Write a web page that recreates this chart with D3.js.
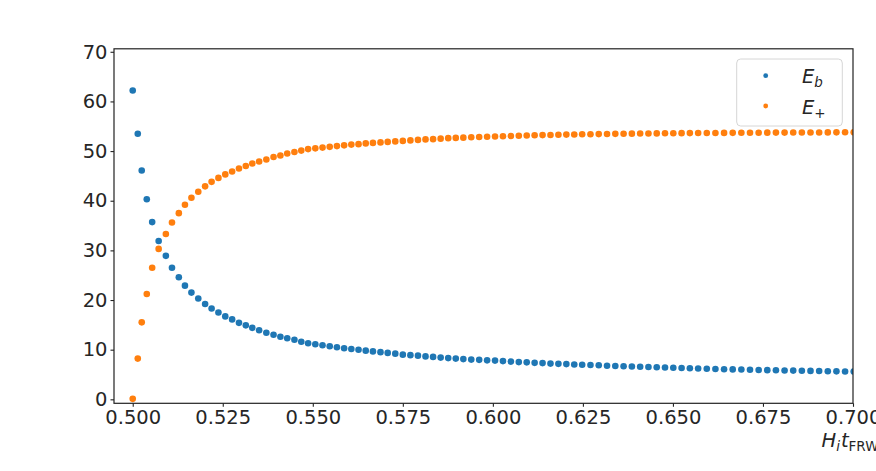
<!DOCTYPE html>
<html>
<head>
<meta charset="utf-8">
<script src="https://cdn.jsdelivr.net/npm/d3@7"></script>
<style>
  body { margin: 0; background: #fff; }
  svg text { font-family: "DejaVu Sans", sans-serif; fill: #262626; }
</style>
</head>
<body>
<svg id="chart" width="876" height="471"></svg>
<script>
// H_i t values
var xValues = [
  0.5000, 0.5014, 0.5025, 0.5039, 0.5054, 0.5072, 0.5092, 0.5109, 0.5128, 0.5145,
  0.5163, 0.5182, 0.5201, 0.5219, 0.5238, 0.5257, 0.5276, 0.5295, 0.5314, 0.5332,
  0.5351, 0.5371, 0.5391, 0.5410, 0.5429, 0.5449, 0.5468, 0.5487, 0.5507, 0.5527,
  0.5547, 0.5567, 0.5587, 0.5607, 0.5627, 0.5647, 0.5667, 0.5688, 0.5708, 0.5729,
  0.5750, 0.5771, 0.5792, 0.5813, 0.5834, 0.5855, 0.5876, 0.5897, 0.5918, 0.5940,
  0.5962, 0.5984, 0.6006, 0.6028, 0.6050, 0.6072, 0.6094, 0.6116, 0.6138, 0.6160,
  0.6182, 0.6204, 0.6226, 0.6248, 0.6271, 0.6294, 0.6317, 0.6340, 0.6363, 0.6386,
  0.6409, 0.6432, 0.6455, 0.6478, 0.6501, 0.6524, 0.6547, 0.6570, 0.6594, 0.6618,
  0.6642, 0.6666, 0.6690, 0.6714, 0.6738, 0.6762, 0.6786, 0.6810, 0.6834, 0.6858,
  0.6882, 0.6906, 0.6930, 0.6954, 0.6978, 0.7002
];

var ebValues = [
  62.2, 53.5, 46.1, 40.3, 35.7, 31.9, 28.9, 26.5, 24.6, 22.9,
  21.5, 20.3, 19.2, 18.3, 17.5, 16.7, 16.1, 15.4, 14.9, 14.4,
  13.9, 13.4, 13.0, 12.6, 12.3, 12.0, 11.6, 11.3, 11.1, 10.9,
  10.7, 10.5, 10.3, 10.15, 10.0, 9.8, 9.65, 9.5, 9.35, 9.2,
  9.0, 8.9, 8.8, 8.65, 8.55, 8.4, 8.3, 8.2, 8.1, 8.0,
  7.95, 7.85, 7.8, 7.7, 7.6, 7.5, 7.45, 7.35, 7.3, 7.2,
  7.15, 7.1, 7.0, 6.95, 6.9, 6.85, 6.75, 6.7, 6.65, 6.6,
  6.55, 6.5, 6.45, 6.4, 6.35, 6.3, 6.25, 6.2, 6.15, 6.1,
  6.07, 6.03, 6.0, 5.95, 5.92, 5.88, 5.85, 5.82, 5.79, 5.76,
  5.73, 5.7, 5.67, 5.64, 5.61, 5.6
];

var epValues = [
  0.1, 8.2, 15.5, 21.2, 26.5, 30.3, 33.3, 35.6, 37.5, 39.2,
  40.6, 41.8, 42.9, 43.8, 44.6, 45.3, 45.9, 46.5, 47.0, 47.5,
  47.9, 48.3, 48.8, 49.1, 49.5, 49.8, 50.1, 50.4, 50.55, 50.7,
  50.85, 51.0, 51.15, 51.3, 51.4, 51.55, 51.65, 51.75, 51.85, 51.95,
  52.05, 52.15, 52.25, 52.35, 52.4, 52.5, 52.6, 52.65, 52.7, 52.8,
  52.85, 52.9, 52.95, 53.0, 53.05, 53.1, 53.15, 53.2, 53.22, 53.25,
  53.3, 53.32, 53.35, 53.38, 53.4, 53.42, 53.45, 53.47, 53.49, 53.51,
  53.53, 53.55, 53.56, 53.58, 53.6, 53.61, 53.62, 53.63, 53.64, 53.65,
  53.66, 53.67, 53.68, 53.69, 53.7, 53.71, 53.72, 53.72, 53.73, 53.74,
  53.75, 53.75, 53.76, 53.77, 53.78, 53.78
];

var xTicks = [0.500, 0.525, 0.550, 0.575, 0.600, 0.625, 0.650, 0.675, 0.700];
var yTicks = [0, 10, 20, 30, 40, 50, 60, 70];
var seriesColors = ["#1f77b4", "#ff7f0e"];

var svg = d3.select("#chart");
var plotLeft = 114, plotRight = 853, plotTop = 48.8, plotBottom = 403.3;

var x = d3.scaleLinear().domain([0.4948, 0.700]).range([plotLeft, plotRight]);
var y = d3.scaleLinear().domain([-0.8, 70.6]).range([plotBottom, plotTop]);

svg.append("defs").append("clipPath").attr("id", "plotClip")
  .append("rect")
    .attr("x", plotLeft).attr("y", plotTop)
    .attr("width", plotRight - plotLeft).attr("height", plotBottom - plotTop);

var plot = svg.append("g").attr("clip-path", "url(#plotClip)");

// blue first, orange drawn over it
[ebValues, epValues].forEach(function(vals, k){
  plot.append("g").selectAll("circle")
    .data(vals)
    .enter()
    .append("circle")
      .attr("cx", function(d, i){ return x(xValues[i]); })
      .attr("cy", function(d){ return y(d); })
      .attr("r", 3.3)
      .attr("fill", seriesColors[k]);
});

// axes
var xAxis = svg.append("g")
  .attr("transform", "translate(0," + plotBottom + ")")
  .call(d3.axisBottom(x).tickValues(xTicks).tickFormat(d3.format(".3f")).tickSize(3.5).tickPadding(3));
var yAxis = svg.append("g")
  .attr("transform", "translate(" + plotLeft + ",0)")
  .call(d3.axisLeft(y).tickValues(yTicks).tickSize(3.5).tickPadding(3));

[xAxis, yAxis].forEach(function(a){
  a.select(".domain").remove();
  a.selectAll("line").attr("stroke", "#222").attr("stroke-width", 1.1);
  a.selectAll("text")
    .attr("font-family", "DejaVu Sans, sans-serif")
    .attr("font-size", 19.5)
    .attr("fill", "#262626");
});

// frame
svg.append("rect")
  .attr("x", plotLeft).attr("y", plotTop)
  .attr("width", plotRight - plotLeft).attr("height", plotBottom - plotTop)
  .attr("fill", "none")
  .attr("stroke", "#222")
  .attr("stroke-width", 1.2);

// x label, runs off the right edge like in the picture
var xl = svg.append("text")
  .attr("x", 821.5).attr("y", 447)
  .attr("font-size", 19.5);
xl.append("tspan").attr("font-style", "italic").text("H");
xl.append("tspan").attr("font-style", "italic").attr("font-size", 13.5).attr("dy", 4).text("i");
xl.append("tspan").attr("font-style", "italic").attr("dy", -4).attr("dx", 1).text("t");
xl.append("tspan").attr("font-size", 13.5).attr("dy", 4).text("FRW");

// legend
var legend = svg.append("g");
legend.append("rect")
  .attr("x", 736.7).attr("y", 59)
  .attr("width", 105.6).attr("height", 67)
  .attr("rx", 4)
  .attr("fill", "#fff")
  .attr("fill-opacity", 0.8)
  .attr("stroke", "#d6d6d6")
  .attr("stroke-width", 1);

var legendRows = [
  { main: "E", sub: "b", subItalic: true, y: 75.7 },
  { main: "E", sub: "+", subItalic: false, y: 106 }
];
legendRows.forEach(function(r, k){
  legend.append("circle")
    .attr("cx", 765.7).attr("cy", r.y)
    .attr("r", 2.4)
    .attr("fill", seriesColors[k]);
  var t = legend.append("text")
    .attr("x", 802).attr("y", r.y + 7.5)
    .attr("font-size", 19.5);
  t.append("tspan").attr("font-style", "italic").text(r.main);
  t.append("tspan")
    .attr("font-style", r.subItalic ? "italic" : "normal")
    .attr("font-size", 13.5)
    .attr("dy", 4)
    .text(r.sub);
});
</script>
</body>
</html>
